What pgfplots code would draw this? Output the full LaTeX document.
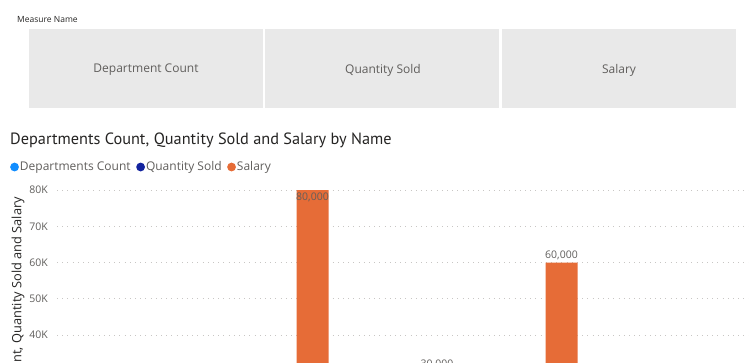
\documentclass[border=0pt]{standalone}
\usepackage{fontspec}
\setmainfont{Open Sans}
\newfontfamily\titlefont{PT Sans}
\usepackage{pgfplots}
\pgfplotsset{compat=1.18}
\usepackage{pgfplotstable}

\definecolor{dc}{HTML}{118DFF}
\definecolor{qs}{HTML}{12239E}
\definecolor{sal}{HTML}{E66C37}
\definecolor{tilebg}{HTML}{E9E9E9}
\definecolor{txtgray}{HTML}{605E5C}
\definecolor{txtdark}{HTML}{252423}
\definecolor{gridc}{HTML}{C8C6C4}

% x = category position; Departments Count and Quantity Sold are tiny next to Salary
\pgfplotstableread{
x dept qty salary
1 2 120 80000
2 1 80  30000
3 3 150 60000
}\datatable

\begin{document}
\begin{tikzpicture}[x=1pt,y=1pt]
\useasboundingbox (0,0) rectangle (749,362);
\clip (0,0) rectangle (749,362);

% slicer header
\node[anchor=west, inner sep=0pt, text=txtdark, font=\fontsize{8.5}{10}\selectfont] at (17,342) {Measure Name};
\fill[tilebg] (29,333) rectangle (263,254);
\fill[tilebg] (265,333) rectangle (499,254);
\fill[tilebg] (502,333) rectangle (736,254);
\node[text=txtgray, font=\fontsize{12}{14}\selectfont] at (146,292) {Department Count};
\node[text=txtgray, font=\fontsize{12}{14}\selectfont] at (383,292) {Quantity Sold};
\node[text=txtgray, font=\fontsize{12}{14}\selectfont] at (619,292) {Salary};

% chart title
\node[anchor=west, inner sep=0pt, text=txtdark, font=\titlefont\fontsize{16.3}{19}\selectfont] at (10,222) {Departments Count, Quantity Sold and Salary by Name};

% y axis title
\node[rotate=90, anchor=east, inner sep=0pt, text=txtdark, font=\fontsize{12.8}{15}\selectfont] at (18,165) {Departments Count, Quantity Sold and Salary};

\begin{axis}[
  at={(57pt,-118pt)}, anchor=south west,
  scale only axis, width=692pt, height=290pt,
  xmin=-0.7952, xmax=4.763,
  ymin=0, ymax=80000,
  enlargelimits=false,
  ybar=0pt, bar width=32pt,
  axis line style={draw=none},
  major tick style={draw=none},
  xtick=\empty,
  ytick={0,10000,20000,30000,40000,50000,60000,70000,80000},
  yticklabels={0K,10K,20K,30K,40K,50K,60K,70K,80K},
  scaled y ticks=false,
  yticklabel style={anchor=east, inner sep=0pt, xshift=-9pt, text=txtgray, font=\fontsize{10.5}{12}\selectfont},
  ymajorgrids,
  grid style={gridc, line width=0.8pt, dash pattern=on 0.8pt off 4.4pt},
  legend columns=3,
  legend style={draw=none, fill=none, at={(axis description cs:-0.0680,1.0793)}, anchor=west,
    font=\fontsize{12}{14}\selectfont, text=txtgray, inner sep=0pt,
    nodes={inner sep=1.0pt},
    /tikz/every odd column/.append style={column sep=0pt},
    /tikz/every even column/.append style={column sep=4.5pt}},
  legend image code/.code={\fill[#1] (4.4pt,0pt) circle (4.4pt);},
  every node near coord/.append style={text=txtgray, inner sep=2.5pt,
    font=\fontsize{10.5}{12}\selectfont,
    /pgf/number format/assume math mode=true,
    /pgf/number format/fixed, /pgf/number format/precision=0,
    /pgf/number format/1000 sep={,}},
]
\addplot[fill=dc, draw=none, bar shift=-32pt] table[x=x, y=dept] {\datatable};
\addlegendentry{Departments Count}
\addplot[fill=qs, draw=none, bar shift=0pt] table[x=x, y=qty] {\datatable};
\addlegendentry{Quantity Sold}
\addplot[fill=sal, draw=none, bar shift=32pt] table[x=x, y=salary] {\datatable};
\addlegendentry{Salary}
% data labels of Salary: inside the top of the tallest bar, above the others
\addplot[forget plot, draw=none, fill=none, bar shift=32pt,
  skip coords between index={1}{3},
  nodes near coords, every node near coord/.append style={anchor=north}]
  table[x=x, y=salary] {\datatable};
\addplot[forget plot, draw=none, fill=none, bar shift=32pt,
  skip coords between index={0}{1},
  nodes near coords, every node near coord/.append style={anchor=south}]
  table[x=x, y=salary] {\datatable};
\end{axis}
\end{tikzpicture}
\end{document}
